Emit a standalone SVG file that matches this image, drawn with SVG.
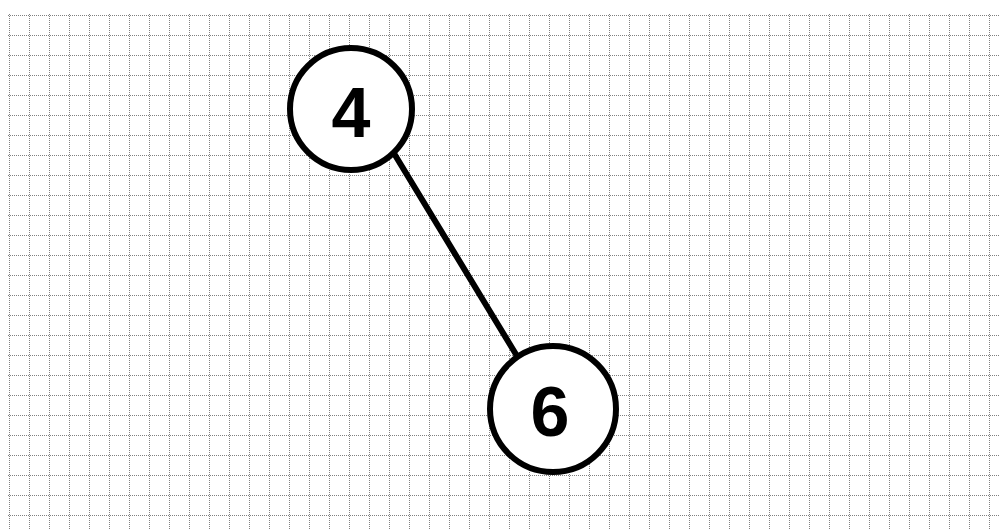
<svg xmlns="http://www.w3.org/2000/svg" width="999" height="530" viewBox="0 0 999 530">
  <defs>
    <pattern id="gridV" x="9" y="0" width="20" height="530" patternUnits="userSpaceOnUse">
      <line x1="0.5" y1="0" x2="0.5" y2="530" class="grid"/>
    </pattern>
    <style>
      .grid { stroke: #808080; stroke-width: 1; stroke-dasharray: 1 1; fill: none; }
      .node circle { fill: #ffffff; stroke: #000000; stroke-width: 6; }
      .node text { font-family: "Liberation Sans", Arial, sans-serif; font-weight: bold; font-size: 70px; fill: #000000; text-anchor: middle; }
      .edge { stroke: #000000; stroke-width: 6; stroke-linecap: round; fill: none; }
    </style>
  </defs>

  <rect width="999" height="530" fill="#ffffff"/>

  <!-- dotted background grid, 20px cells -->
  <g id="grid">
    <path class="grid" d="
      M8 15.5H999 M8 35.5H999 M8 55.5H999 M8 75.5H999 M8 95.5H999
      M8 115.5H999 M8 135.5H999 M8 155.5H999 M8 175.5H999 M8 195.5H999
      M8 215.5H999 M8 235.5H999 M8 255.5H999 M8 275.5H999 M8 295.5H999
      M8 315.5H999 M8 335.5H999 M8 355.5H999 M8 375.5H999 M8 395.5H999
      M8 415.5H999 M8 435.5H999 M8 455.5H999 M8 475.5H999 M8 495.5H999
      M8 515.5H999"/>
    <rect x="9" y="13" width="990" height="517" fill="url(#gridV)"/>
  </g>

  <!-- connectors -->
  <g id="edges">
    <line class="edge" x1="395" y1="155" x2="517" y2="356"/>
  </g>

  <!-- nodes -->
  <g id="node-4" class="node">
    <circle cx="351" cy="109" r="61"/>
    <text x="351" y="137">4</text>
  </g>
  <g id="node-6" class="node">
    <circle cx="553" cy="409" r="63"/>
    <text x="550" y="436">6</text>
  </g>
</svg>
